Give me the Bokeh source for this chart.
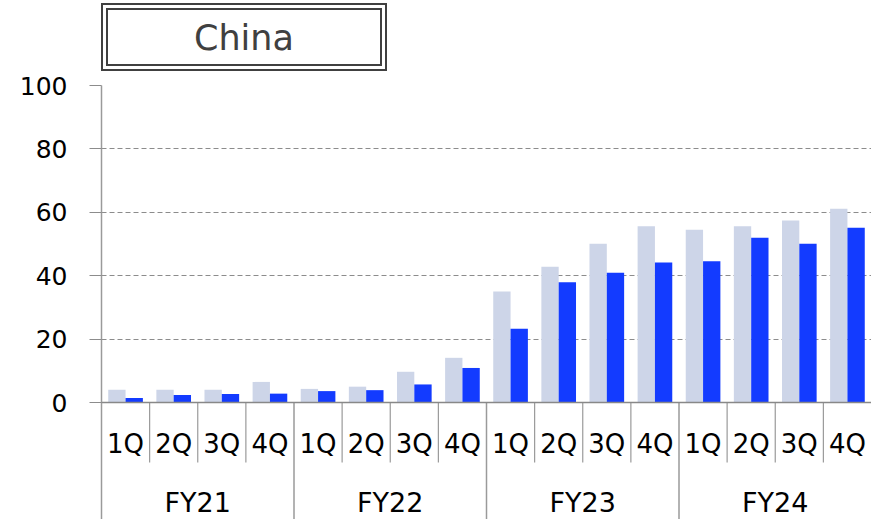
from bokeh.plotting import figure
from bokeh.models import FactorRange, Range1d, FixedTicker, Span, Div, ColumnDataSource
from bokeh.layouts import column
from bokeh.transform import dodge
from bokeh.core.properties import value
from bokeh.embed import file_html
from bokeh.resources import INLINE

# ---- data ----
years = ["FY21", "FY22", "FY23", "FY24"]
quarters = ["1Q", "2Q", "3Q", "4Q"]
light_values = [4.0, 4.0, 4.0, 6.5,
                4.3, 5.0, 9.7, 14.1,
                35.0, 42.8, 50.1, 55.6,
                54.5, 55.6, 57.4, 61.1]
dark_values = [1.4, 2.4, 2.7, 2.8,
               3.6, 3.9, 5.7, 10.9,
               23.3, 37.9, 40.9, 44.2,
               44.6, 52.0, 50.1, 55.1]
y_ticks = [0, 20, 40, 60, 80, 100]
title_text = "China"

FONT = "DejaVu Sans"
LIGHT = "#CDD5E8"
DARK = "#133BFF"
W = 871
H = 519
DIV_H = 71
Y_MIN = -36.9

factors = [(y, q) for y in years for q in quarters]
src = ColumnDataSource(dict(x=factors, q=[f[1] for f in factors],
                            light=light_values, dark=dark_values))

p = figure(width=W, height=H - DIV_H,
           x_range=FactorRange(*factors, group_padding=0, subgroup_padding=0,
                               factor_padding=0, range_padding=0),
           y_range=Range1d(Y_MIN, 100),
           x_axis_location=None, toolbar_location=None, output_backend="svg",
           min_border_left=101, min_border_right=0, min_border_top=85 - DIV_H,
           min_border_bottom=0)
p.margin = 0
p.outline_line_color = None
p.background_fill_color = "white"
p.border_fill_color = "white"

# grid
p.xgrid.visible = False
p.ygrid.ticker = FixedTicker(ticks=[t for t in y_ticks if t > 0])
p.ygrid.grid_line_color = "#8c8c8c"
p.ygrid.grid_line_dash = "5 3"
p.ygrid.grid_line_width = 1

# y axis
ax = p.yaxis[0]
ax.ticker = FixedTicker(ticks=y_ticks)
ax.major_tick_out = 12
ax.major_tick_in = 0
ax.minor_tick_line_color = None
ax.axis_line_color = "#9a9a9a"
ax.axis_line_width = 1.5
ax.major_tick_line_color = "#8c8c8c"
ax.major_tick_line_width = 1.2
ax.major_label_text_font = FONT
ax.major_label_text_font_size = "25px"
ax.major_label_text_color = "#000000"
ax.major_label_standoff = 22

# bars
p.vbar(x=dodge("x", -0.18, range=p.x_range), top="light", width=0.36,
       source=src, fill_color=LIGHT, line_color=None)
p.vbar(x=dodge("x", 0.18, range=p.x_range), top="dark", width=0.36,
       source=src, fill_color=DARK, line_color=None)

# baseline
p.add_layout(Span(location=0, dimension="width", line_color="#888888",
                  line_width=1.5))

# category separators (synthetic coordinates of the factor range)
n = len(factors)
nq = len(quarters)
q_sep = [k for k in range(1, n) if k % nq != 0]
g_sep = [k for k in range(1, n) if k % nq == 0]
p.segment(x0=q_sep, y0=0, x1=q_sep, y1=-18.9, line_color="#9a9a9a",
          line_width=1.2)
p.segment(x0=g_sep, y0=0, x1=g_sep, y1=Y_MIN, line_color="#9a9a9a",
          line_width=1.5)

# quarter labels
p.text(x="x", y=-13.2, text="q", source=src, text_align="center",
       text_baseline="middle", text_font=value(FONT), text_font_size="26px",
       text_color="#000000")
# year labels
year_centers = [i * nq + nq / 2 for i in range(len(years))]
p.text(x=year_centers, y=[-31.6] * len(years), text=years, text_align="center",
       text_baseline="middle", text_font=value(FONT), text_font_size="27px",
       text_color="#000000")

title = Div(text=('<div style="margin-left:101px;margin-top:3px;width:286px;height:68px;'
                  'box-sizing:border-box;border:7px double #404040;padding-top:3px;'
                  'font-family:DejaVu Sans;font-size:35px;color:#404040;'
                  'text-align:center;line-height:51px;">' + title_text + '</div>'),
            width=W, height=DIV_H, margin=0)

layout = column(title, p, spacing=0)
open("out.html", "w").write(file_html(layout, INLINE))
